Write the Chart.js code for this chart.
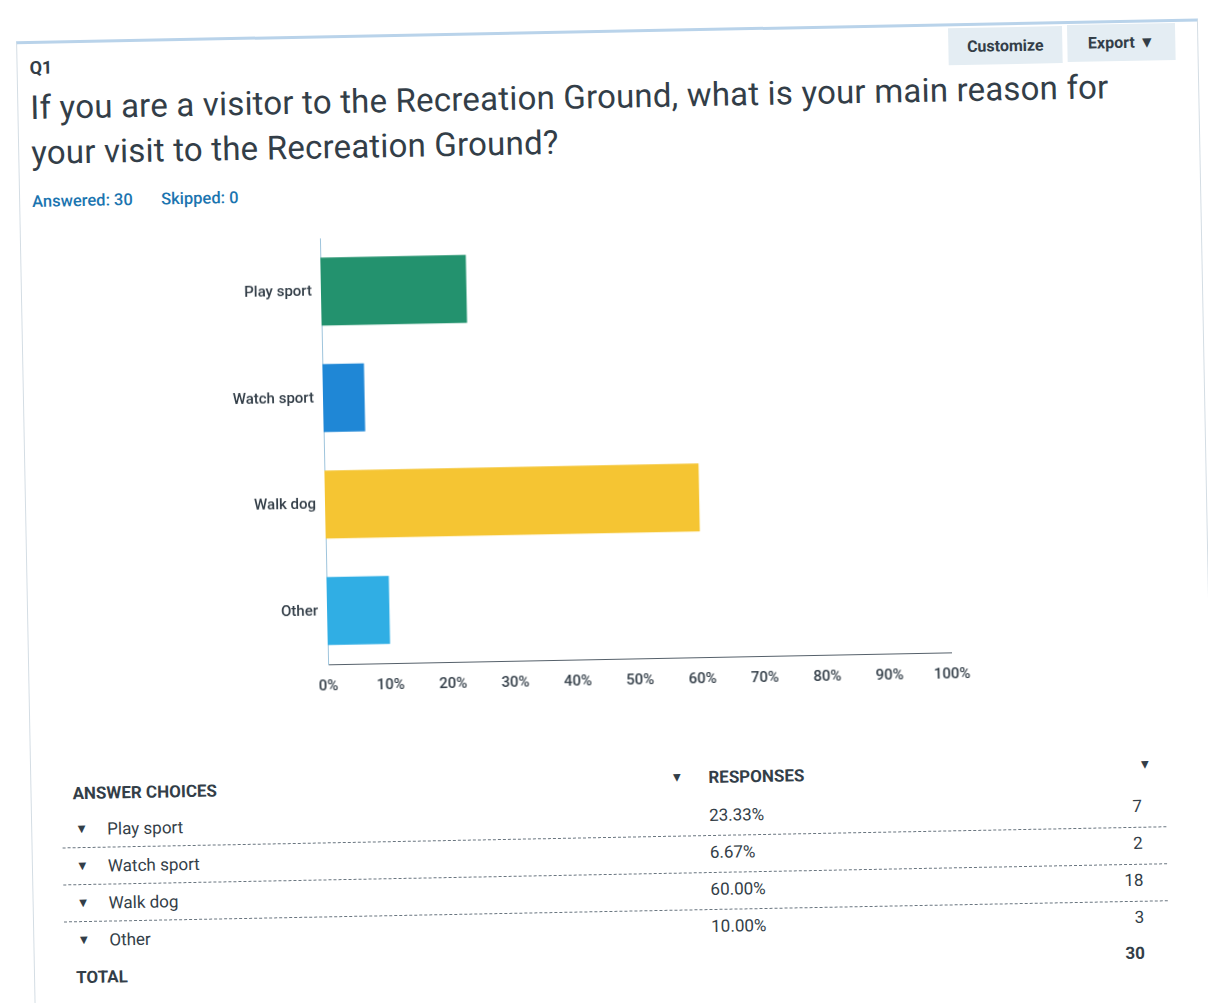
<!DOCTYPE html>
<html>
<head>
<meta charset="utf-8">
<script src="https://cdn.jsdelivr.net/npm/chart.js@4.4.1/dist/chart.umd.min.js"></script>
<style>
  html, body { margin:0; padding:0; width:1208px; height:1003px; overflow:hidden; background:#fff; }
  #page { position:absolute; left:0; top:0; width:1208px; height:1003px; transform-origin:604px 500px; transform:rotate(-1.1deg); font-family:"Roboto", "Liberation Sans", sans-serif; color:#333e48; }
  #card { position:absolute; left:25px; top:30px; width:1180px; height:990px; border:1px solid #d4dde4; border-top:3px solid #b9d3ea; background:#fff; }
  .abs { position:absolute; white-space:nowrap; }
  .btn { position:absolute; height:37px; background:#e4edf3; font-weight:700; font-size:16px; line-height:37px; text-align:center; color:#333e48; }
  #q { left:38px; top:46px; font-size:18px; font-weight:700; }
  #title { left:38px; top:74px; font-size:33px; letter-spacing:0.2px; line-height:45px; font-weight:400; color:#333e48; }
  .meta { top:181px; font-size:16.5px; font-weight:500; color:#1b75b0; }
  #chartbox { position:absolute; left:200px; top:215px; width:780px; height:490px; }
  .th { font-size:17px; font-weight:700; }
  .td { font-size:17px; }
  .sep { position:absolute; left:56px; width:1104px; height:0; border-top:1px dashed #6a7680; }
  .tri { font-size:13px; }
</style>
</head>
<body>
<div id="page">
  <div id="card"></div>
  <div class="btn" style="left:957px; top:35px; width:114px;">Customize</div>
  <div class="btn" style="left:1076px; top:34px; width:108px;">Export &#9660;</div>
  <div id="q" class="abs">Q1</div>
  <div id="title" class="abs">If you are a visitor to the Recreation Ground, what is your main reason for<br>your visit to the Recreation Ground?</div>
  <div class="abs meta" style="left:38px;">Answered: 30</div>
  <div class="abs meta" style="left:167px;">Skipped: 0</div>
  <div id="chartbox"><canvas id="c" width="780" height="490"></canvas></div>
  <div id="table"></div>
</div>
<script>
const categories = ["Play sport", "Watch sport", "Walk dog", "Other"];
const percentages = [23.33, 6.67, 60.00, 10.00];
const counts = [7, 2, 18, 3];
const total = 30;
const tickValues = [0, 10, 20, 30, 40, 50, 60, 70, 80, 90, 100];
const barColors = ["#23926e", "#1f87d6", "#f5c533", "#30aee4"];

const inkColor = "#333e48";
const tickFont = { family: "Roboto, 'Liberation Sans', sans-serif", size: 15, weight: "500" };

new Chart(document.getElementById("c"), {
  type: "bar",
  data: {
    labels: categories,
    datasets: [{
      data: percentages,
      backgroundColor: barColors,
      borderWidth: 0,
      barPercentage: 0.64,
      categoryPercentage: 1.0
    }]
  },
  options: {
    indexAxis: "y",
    responsive: false,
    animation: false,
    devicePixelRatio: 1,
    layout: { padding: { top: 0, right: 25, left: 0, bottom: 0 } },
    plugins: { legend: { display: false }, tooltip: { enabled: false } },
    scales: {
      x: {
        min: 0, max: 100,
        afterBuildTicks: (s) => { s.ticks = tickValues.map(v => ({ value: v })); },
        afterFit: (s) => { s.height = 46; },
        ticks: { callback: (v) => v + "%", font: tickFont, color: inkColor, padding: 13, maxRotation: 0, autoSkip: false },
        grid: { display: false, drawTicks: false },
        border: { display: true, color: "#55606a", width: 1, dash: [6, 2] }
      },
      y: {
        afterFit: (s) => { s.width = 125; },
        ticks: { font: tickFont, color: inkColor, padding: 9 },
        grid: { display: false, drawTicks: false },
        border: { display: true, color: "#9ec4dc", width: 1 }
      }
    }
  }
});

// answer table
const table = document.getElementById("table");
function addText(txt, x, yc, cls, align) {
  const d = document.createElement("div");
  d.className = "abs " + cls;
  d.textContent = txt;
  d.style.top = (yc - 10) + "px";
  d.style.lineHeight = "20px";
  if (align === "right") { d.style.right = (1208 - x) + "px"; }
  else { d.style.left = x + "px"; }
  table.appendChild(d);
}
addText("ANSWER CHOICES", 67, 783, "th");
addText("\u25BC", 665, 779, "tri");
addText("RESPONSES", 703, 779, "th");
addText("\u25BC", 1146, 775, "tri", "right");
const rowY = [819, 856, 893, 930];
categories.forEach((c, i) => {
  addText("\u25BC", 69, rowY[i], "tri");
  addText(c, 101, rowY[i], "td");
  addText(percentages[i].toFixed(2) + "%", 703, rowY[i] - 2, "td");
  addText(String(counts[i]), 1136, rowY[i] - 3, "td", "right");
  if (i < categories.length - 1) {
    const s = document.createElement("div");
    s.className = "sep";
    s.style.top = (rowY[i] + 18) + "px";
    table.appendChild(s);
  }
});
addText("TOTAL", 67, 967, "th");
addText(String(total), 1136, 963, "th", "right");
</script>
</body>
</html>
